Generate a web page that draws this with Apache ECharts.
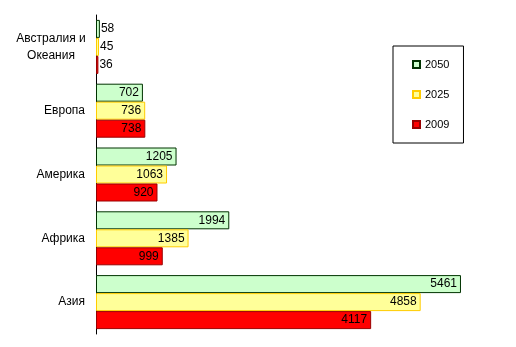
<!DOCTYPE html>
<html><head><meta charset="utf-8">
<script src="https://cdn.jsdelivr.net/npm/echarts@6/dist/echarts.min.js"></script>
<style>html,body{margin:0;padding:0;background:#fff}#c{width:516px;height:347px}</style>
</head><body><div id="c"></div>
<script>
var categories = ['Австралия и\nОкеания', 'Европа', 'Америка', 'Африка', 'Азия'];
var seriesNames = ['2050', '2025', '2009'];
var values2050 = [58, 702, 1205, 1994, 5461];
var values2025 = [45, 736, 1063, 1385, 4858];
var values2009 = [36, 738, 920, 999, 4117];

var fills = ['#CCFFCC', '#FFFF99', '#FF0000'];
var borders = ['#003300', '#FFCC00', '#990000'];
var allVals = [values2050, values2025, values2009];

function mk(i) {
  return {
    name: seriesNames[i], type: 'bar', barWidth: 18, barGap: '0%', barCategoryGap: '15%',
    itemStyle: {color: fills[i], borderColor: borders[i], borderWidth: 1},
    label: {show: true, position: 'insideRight', color: '#000', fontFamily: 'Arial', fontSize: 12, distance: 4},
    data: allVals[i].map(function (v) {
      return v < 200 ? {value: v, label: {position: 'right', distance: 1}} : v;
    })
  };
}

var chart = echarts.init(document.getElementById('c'), null, {renderer: 'canvas'});
chart.setOption({
  animation: false,
  grid: {left: 96, right: 19, top: 15, bottom: 13, containLabel: false},
  legend: {
    orient: 'vertical', left: 393, top: 46,
    data: seriesNames, itemWidth: 7, itemHeight: 7, itemGap: 19,
    padding: [13, 14, 13, 19],
    borderColor: '#000', borderWidth: 1,
    textStyle: {fontFamily: 'Arial', fontSize: 11, color: '#000'},
    icon: 'rect'
  },
  xAxis: {type: 'value', min: 0, max: 6000, show: false},
  yAxis: {
    type: 'category', data: categories, inverse: true,
    axisLine: {lineStyle: {color: '#000', width: 1}},
    axisTick: {show: false},
    axisLabel: {
      fontFamily: 'Arial', fontSize: 12, color: '#000', margin: 11, align: 'right', lineHeight: 17,
      formatter: function (v) { return v.indexOf('\n') >= 0 ? '{c|' + v + '}' : v; },
      rich: {c: {width: 68, align: 'center', fontFamily: 'Arial', fontSize: 12, lineHeight: 17, color: '#000'}}
    }
  },
  series: [mk(0), mk(1), mk(2)]
});
</script></body></html>
